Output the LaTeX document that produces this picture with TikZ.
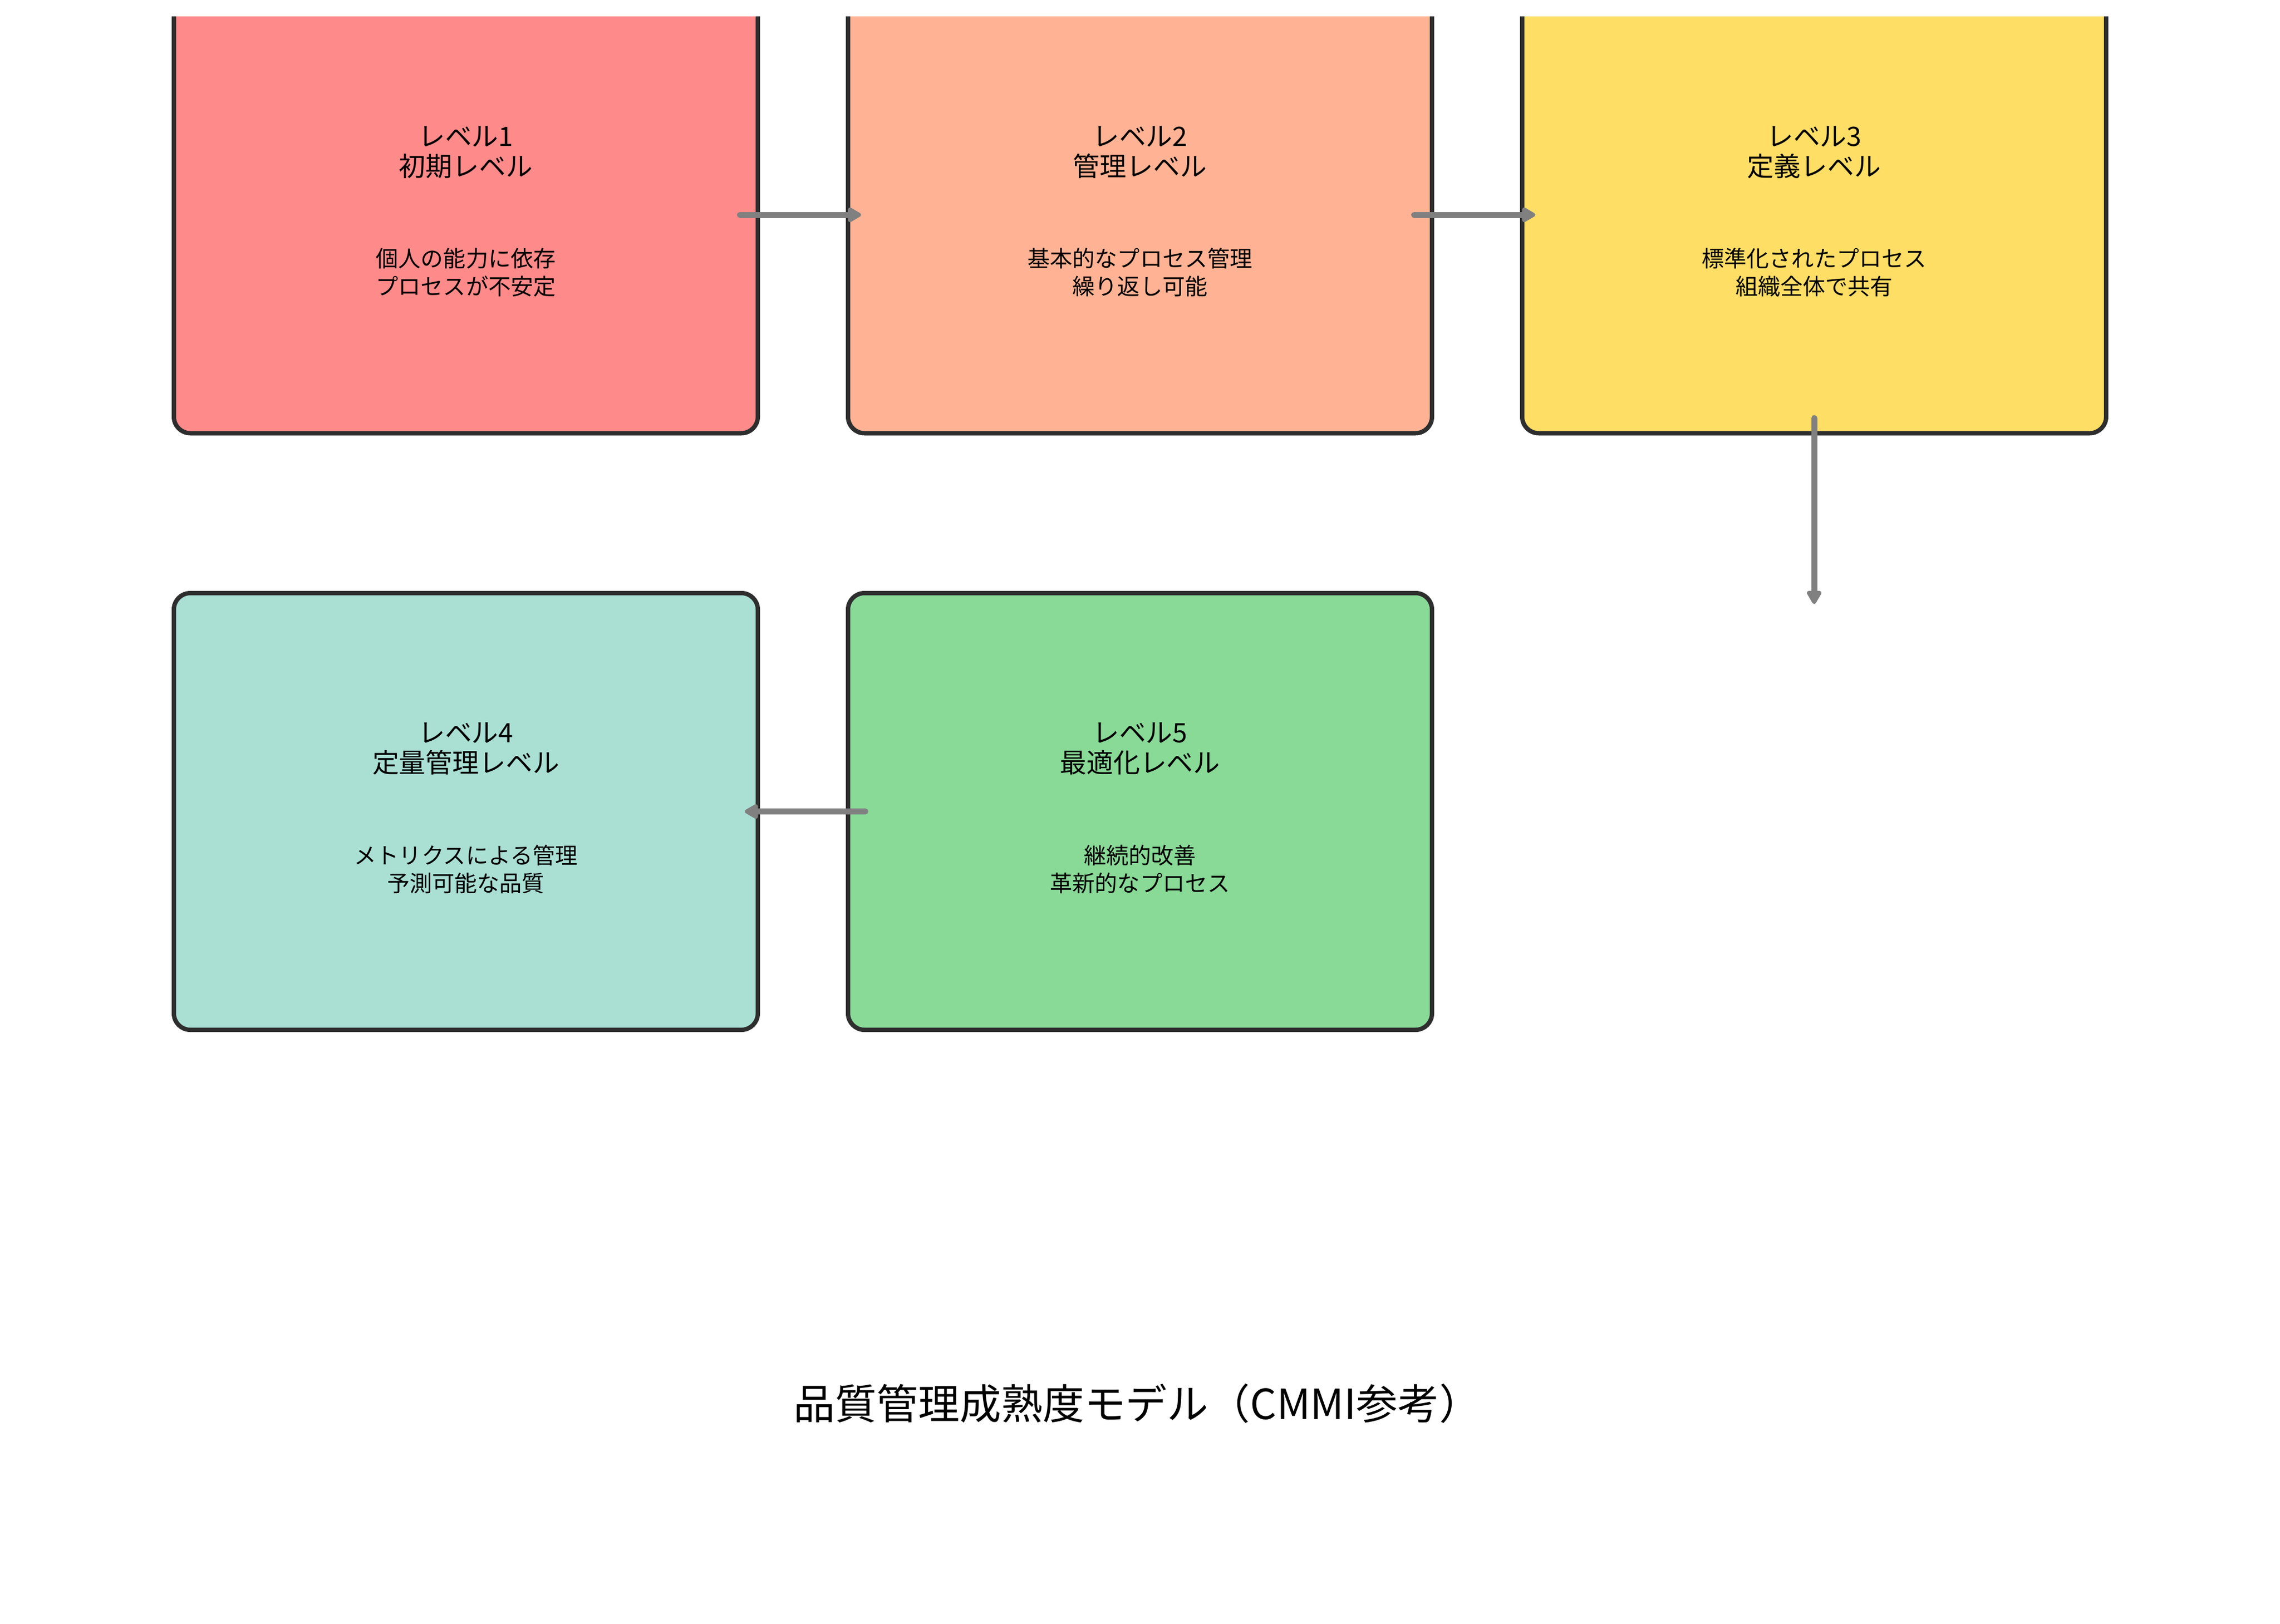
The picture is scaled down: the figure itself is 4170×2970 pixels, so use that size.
\documentclass[tikz,border=0pt]{standalone}
\usepackage{fontspec}
\setmainfont{Noto Sans CJK JP}
\usetikzlibrary{arrows.meta,calc}
\definecolor{fillA}{HTML}{FF8A8A}
\definecolor{fillB}{HTML}{FFB394}
\definecolor{fillC}{HTML}{FFDE66}
\definecolor{fillD}{HTML}{AADFD4}
\definecolor{fillE}{HTML}{89D997}
\definecolor{boxline}{HTML}{2E2E2E}
\definecolor{arrowgray}{HTML}{808080}
\begin{document}
\begin{tikzpicture}[x=0.1mm,y=-0.1mm,
  levelbox/.style={draw=boxline, line width=0.8mm, rounded corners=3mm,
    minimum width=106.8mm, minimum height=79.9mm, inner sep=0pt},
  ttl/.style={align=center, inner sep=0pt, font=\fontsize{13.9pt}{15.6pt}\selectfont},
  dsc/.style={align=center, inner sep=0pt, font=\fontsize{11.7pt}{14.5pt}\selectfont},
  flow/.style={draw=arrowgray, line width=1.1mm, line cap=round,
    -{Triangle[length=2.8mm,width=3mm,round]}}]
\useasboundingbox (0,0) rectangle (4170,2970);
\begin{scope}
  \clip (0,30) rectangle (4170,2970);
  \node[levelbox, fill=fillA] (b1) at (852,393) {};
  \node[levelbox, fill=fillB] (b2) at (2085,393) {};
  \node[levelbox, fill=fillC] (b3) at (3318,393) {};
\end{scope}
\node[levelbox, fill=fillD] (b4) at (852,1484.5) {};
\node[levelbox, fill=fillE] (b5) at (2085,1484.5) {};

\node[ttl] (t1) at ($(b1.center)+(0,-114.5)$) {レベル1\\初期レベル};
\node[dsc] (d1) at ($(b1.center)+(0,105.5)$) {個人の能力に依存\\プロセスが不安定};
\node[ttl] (t2) at ($(b2.center)+(0,-114.5)$) {レベル2\\管理レベル};
\node[dsc] (d2) at ($(b2.center)+(0,105.5)$) {基本的なプロセス管理\\繰り返し可能};
\node[ttl] (t3) at ($(b3.center)+(0,-114.5)$) {レベル3\\定義レベル};
\node[dsc] (d3) at ($(b3.center)+(0,105.5)$) {標準化されたプロセス\\組織全体で共有};
\node[ttl] (t4) at ($(b4.center)+(0,-114.5)$) {レベル4\\定量管理レベル};
\node[dsc] (d4) at ($(b4.center)+(0,105.5)$) {メトリクスによる管理\\予測可能な品質};
\node[ttl] (t5) at ($(b5.center)+(0,-114.5)$) {レベル5\\最適化レベル};
\node[dsc] (d5) at ($(b5.center)+(0,105.5)$) {継続的改善\\革新的なプロセス};

\coordinate (down) at (3318,1105);
\draw[flow, shorten <=-3.65mm, shorten >=-2.8mm] (b1.east) -- (b2.west);
\draw[flow, shorten <=-3.65mm, shorten >=-2.8mm] (b2.east) -- (b3.west);
\draw[flow, shorten <=-3.15mm] (b3.south) -- (down);
\draw[flow, shorten <=-3.55mm, shorten >=-2.8mm] (b5.west) -- (b4.east);

\node[inner sep=0pt, font=\fontsize{21.6pt}{25pt}\selectfont] (title) at (2080,2568) {品質管理成熟度モデル（CMMI参考）};
\end{tikzpicture}
\end{document}
